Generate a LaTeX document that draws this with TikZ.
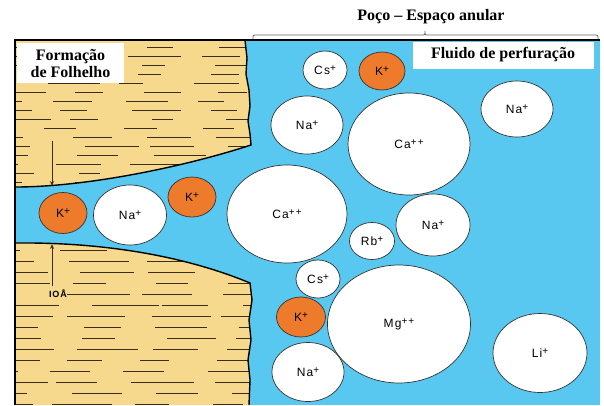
\documentclass[tikz,border=0pt]{standalone}
\usepackage{fontspec}
\setmainfont{Liberation Serif}
\newfontfamily\ionfont[LetterSpace=10]{Liberation Sans}
\usetikzlibrary{shapes.geometric,arrows.meta}
\definecolor{fluid}{RGB}{88,200,240}
\definecolor{shale}{RGB}{246,217,140}
\definecolor{potassium}{RGB}{238,122,44}
\definecolor{laminacol}{RGB}{60,45,25}
\newcommand{\charge}[1]{\raisebox{0.45ex}{\fontsize{10}{10}\selectfont#1}}
\begin{document}
\begin{tikzpicture}[x=1pt,y=-1pt,
  ion/.style={ellipse,draw=black!80,line width=0.7pt,fill=white,inner sep=0pt,
    font=\ionfont\fontsize{12}{13}\selectfont},
  kion/.style={ion,fill=potassium},
  lamina/.style={draw=laminacol,line width=0.95pt},
  rim/.style={draw=black,line width=1.4pt},
  heading/.style={font=\bfseries\fontsize{16}{17}\selectfont,inner sep=0pt},
  tag/.style={heading,fill=white},
  gaparrow/.style={draw=laminacol,line width=0.9pt,-{Stealth[length=5pt,width=4pt]}}]
\useasboundingbox (0,0) rectangle (604,405);

% drilling fluid background
\fill[fluid] (15,40) rectangle (600,405);

% shale paths
\def\uppershale{(15,40) -- (245,40) -- (247,58) -- (246,74) -- (249,90) -- (250,106)
  -- (248,121) -- (250,134) -- (251,145) .. controls (190,165) and (90,187) .. (15,187) -- cycle}
\def\lowershale{(15,243) .. controls (110,242) and (190,258) .. (250,283) -- (252,300)
  -- (249,320) -- (251,340) -- (248,360) -- (250,380) -- (249,405) -- (15,405) -- cycle}

\fill[shale] \uppershale;
\fill[shale] \lowershale;

% laminations of the upper shale
\begin{scope}
  \clip \uppershale;
  \pgfmathsetseed{11}
  \foreach \y in {47,56,...,182}{
    \pgfmathsetmacro\off{-40+rnd*45}
    \foreach \k in {0,...,4}{
      \pgfmathsetmacro\a{\off+\k*75+rnd*12}
      \pgfmathsetmacro\b{\a+20+rnd*36}
      \draw[lamina] (\a,\y) -- (\b,\y);
    }
  }
\end{scope}

% laminations of the lower shale
\begin{scope}
  \clip \lowershale;
  \pgfmathsetseed{5}
  \foreach \y in {250,261,...,404}{
    \pgfmathsetmacro\off{-40+rnd*45}
    \foreach \k in {0,...,4}{
      \pgfmathsetmacro\a{\off+\k*78+rnd*12}
      \pgfmathsetmacro\b{\a+25+rnd*42}
      \draw[lamina] (\a,\y) -- (\b,\y);
    }
  }
\end{scope}

% shale outlines
\draw[rim] (245,40) -- (247,58) -- (246,74) -- (249,90) -- (250,106)
  -- (248,121) -- (250,134) -- (251,145) .. controls (190,165) and (90,187) .. (15,187);
\draw[rim] (15,243) .. controls (110,242) and (190,258) .. (250,283) -- (252,300)
  -- (249,320) -- (251,340) -- (248,360) -- (250,380) -- (249,405);

% frame
\draw[black,line width=1.5pt] (15,405) -- (15,40) -- (600,40);

% ions
\node[ion,minimum width=44pt,minimum height=38pt] (csA) at (325,70) {Cs\charge{+}};
\node[kion,minimum width=46pt,minimum height=38pt] (kA) at (382,71) {K\charge{+}};
\node[ion,minimum width=72pt,minimum height=58pt] (naA) at (307,125) {Na\charge{+}};
\node[ion,minimum width=122pt,minimum height=102pt] (caA) at (409,144) {Ca\charge{++}};
\node[ion,minimum width=72pt,minimum height=56pt] (naB) at (517,109) {Na\charge{+}};
\node[kion,minimum width=48pt,minimum height=41pt] (kB) at (63,213) {K\charge{+}};
\node[ion,minimum width=73pt,minimum height=60pt] (naC) at (130,215) {Na\charge{+}};
\node[kion,minimum width=48pt,minimum height=40pt] (kC) at (192,197) {K\charge{+}};
\node[ion,minimum width=120pt,minimum height=98pt] (caB) at (287,214) {Ca\charge{++}};
\node[ion,minimum width=74pt,minimum height=62pt] (naD) at (433,225) {Na\charge{+}};
\node[ion,minimum width=45pt,minimum height=37pt] (rb) at (372,241) {Rb\charge{+}};
\node[ion,minimum width=44pt,minimum height=38pt] (csB) at (318,279) {Cs\charge{+}};
\node[kion,minimum width=49pt,minimum height=40pt] (kD) at (301,317) {K\charge{+}};
\node[ion,minimum width=143pt,minimum height=118pt] (mg) at (399,324) {Mg\charge{++}};
\node[ion,minimum width=72pt,minimum height=59pt] (naE) at (308,372) {Na\charge{+}};
\node[ion,minimum width=94pt,minimum height=79pt] (li) at (540,353) {Li\charge{+}};

% interlayer spacing arrows
\coordinate (downStart) at (52,141);
\coordinate (downEnd) at (52,186);
\coordinate (upStart) at (52,286);
\coordinate (upEnd) at (52,244);
\draw[gaparrow] (downStart) -- (downEnd);
\draw[gaparrow] (upStart) -- (upEnd);
\node[font=\ionfont\bfseries\fontsize{9}{10}\selectfont,inner sep=0pt,fill=shale] (gapLabel) at (58,294) {IOÅ};

% labels
\node[tag,align=center,minimum width=107pt,minimum height=40pt] (shaleLabel) at (70.5,63) {Formação\\de Folhelho};
\node[tag,minimum width=181pt,minimum height=27pt] (fluidLabel) at (503,55) {Fluido de perfuração};
\node[heading] (wellLabel) at (431,17) {Poço – Espaço anular};

% brace over the annulus
\coordinate (braceL) at (253,39);
\coordinate (braceR) at (598,39);
\draw[black!60,line width=0.8pt] (braceL) .. controls (253,35) .. (257,35) -- (421,35)
  .. controls (425,35) .. (425,31) .. controls (425,35) .. (429,35) -- (594,35)
  .. controls (598,35) .. (braceR);
\end{tikzpicture}
\end{document}
